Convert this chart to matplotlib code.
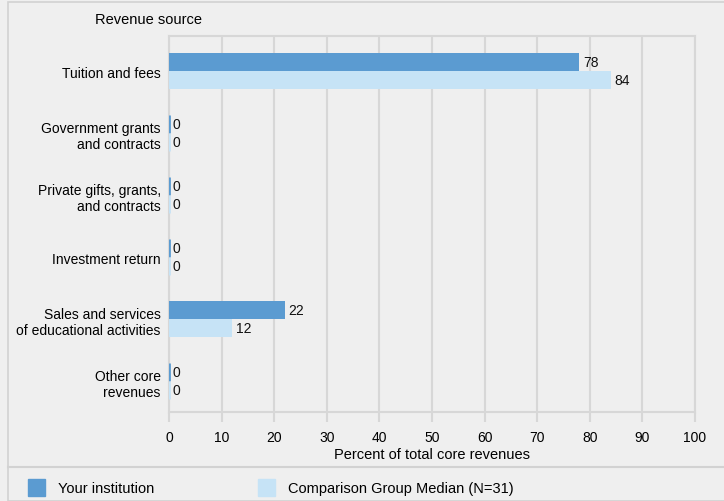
import matplotlib.pyplot as plt
from matplotlib.patches import Rectangle
import numpy as np

plt.rcParams['font.family'] = ['Liberation Sans', 'DejaVu Sans']

categories = ['Tuition and fees', 'Government grants\nand contracts',
              'Private gifts, grants,\nand contracts', 'Investment return',
              'Sales and services\nof educational activities', 'Other core\nrevenues']
your_inst = [78, 0, 0, 0, 22, 0]
comparison = [84, 0, 0, 0, 12, 0]
series_names = ['Your institution', 'Comparison Group Median (N=31)']

dark = '#5b9bd1'
light = '#c6e3f6'
bg = '#efefef'
grid = '#d7d7d7'

fig = plt.figure(figsize=(7.24, 5.02), dpi=100, facecolor=bg)
ax = fig.add_axes([169 / 724, 1 - 413 / 502, 526 / 724, 376 / 502])
ax.set_facecolor(bg)

y = np.arange(len(categories))
h = 0.29
b1 = ax.barh(y - h / 2, your_inst, height=h, color=dark, edgecolor=dark, linewidth=0, zorder=3)
b2 = ax.barh(y + h / 2, comparison, height=h, color=light, edgecolor=light, linewidth=0, zorder=3)

for bars, vals in ((b1, your_inst), (b2, comparison)):
    for bar, v in zip(bars, vals):
        if v == 0:
            bar.set_linewidth(2)  # thin sliver for zero values
        ax.annotate(f'{v}', (v, bar.get_y() + bar.get_height() / 2),
                    xytext=(2.5, 0), textcoords='offset points',
                    ha='left', va='center', fontsize=10, color='#111111')

ax.set_xlim(0, 100)
ax.set_ylim(len(categories) - 0.5, -0.565)
ax.set_xticks(range(0, 101, 10))
ax.set_yticks(y)
ax.set_yticklabels(categories, fontsize=10, multialignment='right')
ax.tick_params(axis='y', length=0, pad=6)
ax.tick_params(axis='x', length=7, width=1.5, color=grid, labelsize=10, pad=6)
ax.grid(axis='x', color=grid, linewidth=1.5, zorder=0)
for s in ax.spines.values():
    s.set_color(grid)
    s.set_linewidth(1.5)
ax.set_xlabel('Percent of total core revenues', fontsize=10.5, labelpad=2)

fig.text(95 / 724, 1 - 20 / 502, 'Revenue source', fontsize=10.5, ha='left', va='center')

# outer frame and legend separator
fig.add_artist(Rectangle((8 / 724, 0), 1.0, 1 - 3 / 502, transform=fig.transFigure,
                         fill=False, edgecolor='#d2d2d2', linewidth=1.2))
fig.add_artist(plt.Line2D([8 / 724, 1], [1 - 468 / 502] * 2, transform=fig.transFigure,
                          color='#d2d2d2', linewidth=1.5))

# legend
for x0, col, name in ((28, dark, series_names[0]), (258, light, series_names[1])):
    fig.add_artist(Rectangle((x0 / 724, 1 - 497 / 502), 17 / 724, 17 / 502,
                             transform=fig.transFigure, color=col))
    fig.text((x0 + 30) / 724, 1 - 489 / 502, name, fontsize=10.5, ha='left', va='center')

fig.savefig('out.png', dpi=100, facecolor=bg)
